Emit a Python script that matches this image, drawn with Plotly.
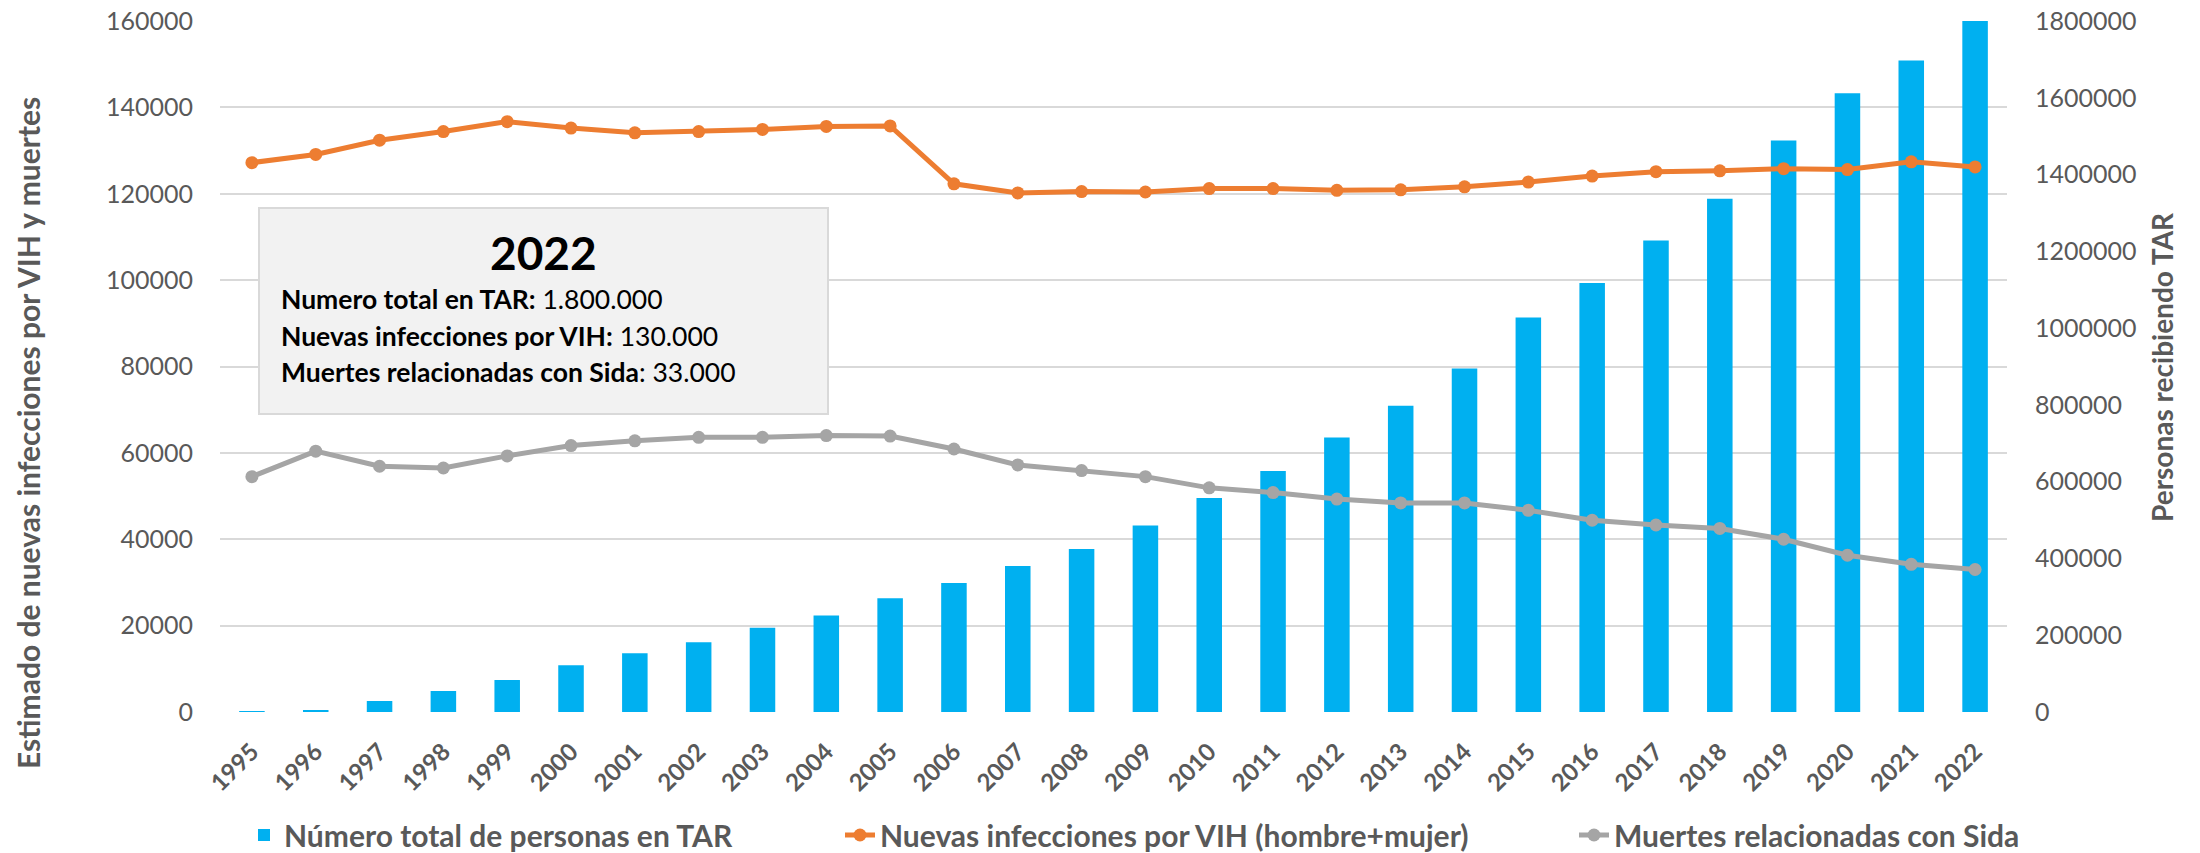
import plotly.graph_objects as go

years = [str(y) for y in range(1995, 2023)]

tar_total = [2000, 5000, 28600, 54700, 83300, 121500, 152800, 181400, 219600, 251700,
             296000, 335900, 380100, 424400, 486100, 557200, 627500, 715200, 797600, 894900,
             1027700, 1117800, 1228000, 1337000, 1489000, 1612000, 1697000, 1800000]

new_infections = [127200, 129100, 132400, 134400, 136700, 135200, 134100, 134400, 134900, 135600,
                  135700, 122300, 120200, 120500, 120400, 121200, 121200, 120800, 120900, 121600,
                  122700, 124100, 125100, 125300, 125800, 125600, 127400, 126200]

deaths = [54500, 60400, 56900, 56500, 59300, 61700, 62800, 63600, 63600, 64000,
          63900, 60900, 57200, 55900, 54500, 51900, 50800, 49300, 48400, 48400,
          46700, 44400, 43300, 42500, 40000, 36300, 34200, 33000]

left_ticks = [0, 20000, 40000, 60000, 80000, 100000, 120000, 140000, 160000]
right_ticks = [0, 200000, 400000, 600000, 800000, 1000000, 1200000, 1400000, 1600000, 1800000]

names = ["Número total de personas en TAR",
         "Nuevas infecciones por VIH (hombre+mujer)",
         "Muertes relacionadas con Sida"]

box_title = "2022"
box_lines = ["<b>Numero total en TAR:</b> 1.800.000",
             "<b>Nuevas infecciones por VIH:</b> 130.000",
             "<b>Muertes relacionadas con Sida</b>: 33.000"]

GRAY = "#595959"
FONT = "Lato, 'Liberation Sans', sans-serif"

fig = go.Figure()
fig.add_trace(go.Bar(x=years, y=tar_total, name=names[0], marker_color="#00b0f0",
                     marker_line_width=0, yaxis="y", legend="legend", showlegend=True))
fig.add_trace(go.Scatter(x=years, y=new_infections, name=names[1], mode="lines+markers",
                         line=dict(color="#ed7d31", width=5), marker=dict(size=13, color="#ed7d31"),
                         yaxis="y2", legend="legend2", showlegend=True))
fig.add_trace(go.Scatter(x=years, y=deaths, name=names[2], mode="lines+markers",
                         line=dict(color="#a5a5a5", width=5), marker=dict(size=13, color="#a5a5a5"),
                         yaxis="y2", legend="legend3", showlegend=True))

# the page adds an 8px body margin at left/top; size the figure to end at the window edge
OFF = 8
W, H = 2200 - OFF, 853 - OFF
PL, PR, PT, PB = 220, 2007, 21, 712          # plot area in page pixels
L, R, T, B = PL - OFF, W - (PR - OFF), PT - OFF, H - (PB - OFF)
pw, ph = W - L - R, H - T - B

def px(xp):
    return (xp - PL) / pw

def py(yp):
    return (PB - yp) / ph

legend_common = dict(orientation="h", yanchor="middle", xanchor="left", y=py(835),
                     font=dict(family=FONT, size=30, color=GRAY, weight=700),
                     bgcolor="rgba(0,0,0,0)")

tickfont_y = dict(family=FONT, size=25, color=GRAY)

fig.update_layout(
    width=W, height=H,
    margin=dict(l=L, r=R, t=T, b=B, autoexpand=False),
    showlegend=True,
    plot_bgcolor="white", paper_bgcolor="white",
    bargap=0.6,
    xaxis=dict(type="category", range=[-0.5, len(years) - 0.5], tickangle=-45,
               showgrid=False, showline=False, zeroline=False,
               tickfont=dict(family=FONT, size=24, color=GRAY, weight=700),
               ticks="", ticklabelstandoff=20, automargin=False),
    yaxis=dict(side="right", range=[0, 1800000], tickvals=right_ticks,
               ticktext=[str(v) for v in right_ticks], showgrid=False, zeroline=False,
               tickfont=tickfont_y, ticklabelstandoff=27, ticklabeloverflow="allow",
               automargin=False),
    yaxis2=dict(side="left", overlaying="y", range=[0, 160000], tickvals=left_ticks,
                ticktext=[str(v) for v in left_ticks], showgrid=True, gridcolor="#d9d9d9",
                gridwidth=1.5, zeroline=False, automargin=False, ticklabeloverflow="allow",
                tickfont=tickfont_y, ticklabelstandoff=26),
    legend=dict(x=px(244), **legend_common),
    legend2=dict(x=px(840), **legend_common),
    legend3=dict(x=px(1574), **legend_common),
    shapes=[dict(type="rect", xref="paper", yref="paper", x0=px(259), x1=px(828),
                 y0=py(414), y1=py(208), fillcolor="#f2f2f2", line=dict(color="#d9d9d9", width=2),
                 layer="above")],
)

annos = [
    dict(text="<b>Estimado de nuevas infecciones por VIH y muertes</b>", x=px(28), y=py(433),
         textangle=-90, font=dict(family=FONT, size=30, color=GRAY)),
    dict(text="<b>Personas recibiendo TAR</b>", x=px(2162), y=py(367),
         textangle=-90, font=dict(family=FONT, size=28, color=GRAY)),
    dict(text="<b>" + box_title + "</b>", x=px(543), y=py(252),
         font=dict(family=FONT, size=46, color="black")),
]
for i, (line, yc) in enumerate(zip(box_lines, [299, 336, 372])):
    annos.append(dict(text=line, x=px(279), y=py(yc), xanchor="left",
                      font=dict(family=FONT, size=26.5, color="black")))
for a in annos:
    a.setdefault("xanchor", "center")
    a.update(xref="paper", yref="paper", showarrow=False, yanchor="middle")
fig.update_layout(annotations=annos)

fig.write_html("out.html")
